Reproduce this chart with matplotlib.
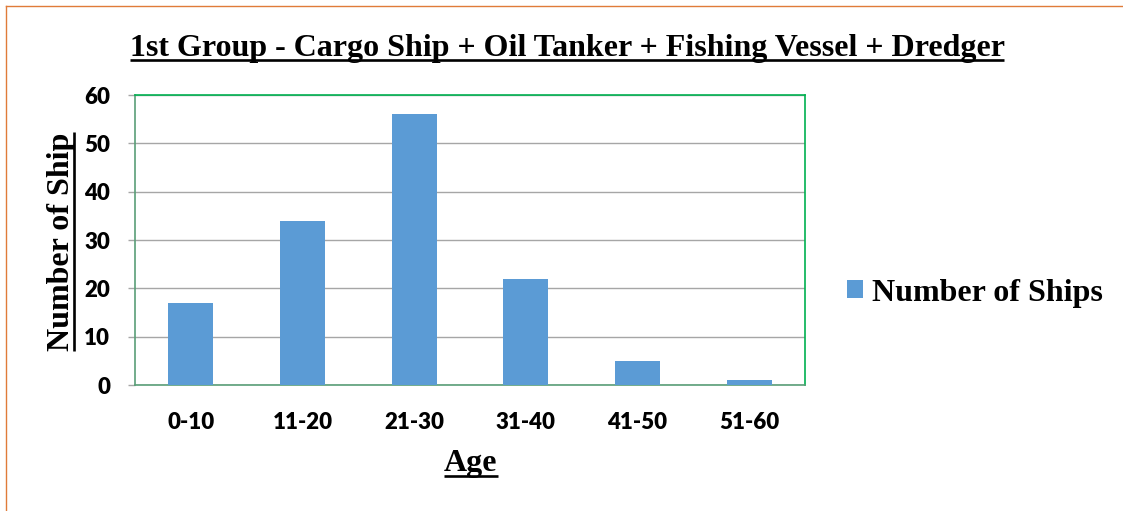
import matplotlib
matplotlib.use("Agg")
import matplotlib.pyplot as plt
from matplotlib.lines import Line2D
from matplotlib.patches import Patch

categories = ["0-10", "11-20", "21-30", "31-40", "41-50", "51-60"]
ships = [17, 34, 56, 22, 5, 1]
yticks = [0, 10, 20, 30, 40, 50, 60]

title = "1st Group - Cargo Ship + Oil Tanker + Fishing Vessel + Dredger"
xlabel = "Age"
ylabel = "Number of Ship"
series_name = "Number of Ships"

W, H = 1123, 511
fig = plt.figure(figsize=(W / 100, H / 100), dpi=100)
ax = fig.add_axes([135 / W, 1 - 385 / H, 670 / W, 290 / H])

bar_color = "#5B9BD5"
ax.bar(range(len(categories)), ships, width=0.4, color=bar_color, zorder=3)
ax.set_xlim(-0.5, len(categories) - 0.5)
ax.set_ylim(0, 60)
ax.set_yticks(yticks)
ax.set_xticks(range(len(categories)))
ax.set_xticklabels(categories)
ax.yaxis.grid(True, color="#a6a6a6", linewidth=1.0, zorder=0)
ax.set_axisbelow(True)

for lab in ax.get_xticklabels() + ax.get_yticklabels():
    lab.set_fontfamily("Lato")
    lab.set_fontweight("heavy")
    lab.set_fontsize(16)
ax.tick_params(axis="x", length=0, pad=19.5)
ax.tick_params(axis="y", length=5, width=1.0, color="#a6a6a6", pad=13, direction="out")

for s in ("top", "right"):
    ax.spines[s].set_color("#00B050")
    ax.spines[s].set_linewidth(1.2)
for s in ("left", "bottom"):
    ax.spines[s].set_color("#5a9e78")
    ax.spines[s].set_linewidth(1.2)

serif = dict(family="Liberation Serif", weight="bold")

t_title = fig.text(567 / W, 1 - 56 / H, title, ha="center", va="baseline", fontsize=23, **serif)
t_x = fig.text(471 / W, 1 - 471 / H, xlabel, ha="center", va="baseline", fontsize=23, **serif)
t_y = fig.text(69 / W, 1 - 241.5 / H, ylabel, ha="center", va="baseline", rotation=90,
               rotation_mode="anchor", fontsize=23, **serif)

fig.canvas.draw()
r = fig.canvas.get_renderer()

def hline_under(t, ypix):
    bb = t.get_window_extent(renderer=r)
    fig.add_artist(Line2D([bb.x0 / W, bb.x1 / W], [1 - ypix / H, 1 - ypix / H],
                          color="black", linewidth=1.9, solid_capstyle="butt"))

def vline_under(t, xpix):
    bb = t.get_window_extent(renderer=r)
    fig.add_artist(Line2D([xpix / W, xpix / W], [bb.y0 / H, bb.y1 / H],
                          color="black", linewidth=1.9, solid_capstyle="butt"))

hline_under(t_title, 60.5)
hline_under(t_x, 476)
vline_under(t_y, 73.5)

handle = Patch(facecolor=bar_color, edgecolor="none")
leg = fig.legend([handle], [series_name], loc="center left",
                 bbox_to_anchor=(847 / W, 1 - 293 / H), frameon=False,
                 prop=dict(family="Liberation Serif", weight="bold", size=23),
                 handlelength=0.5, handleheight=0.5, handletextpad=0.28,
                 borderpad=0, borderaxespad=0)

border = "#E07B39"
fig.add_artist(Line2D([6 / W, 1], [1 - 6 / H, 1 - 6 / H], color=border, linewidth=1.0))
fig.add_artist(Line2D([6 / W, 6 / W], [0, 1 - 6 / H], color=border, linewidth=1.0))

fig.savefig("out.png", dpi=100)
